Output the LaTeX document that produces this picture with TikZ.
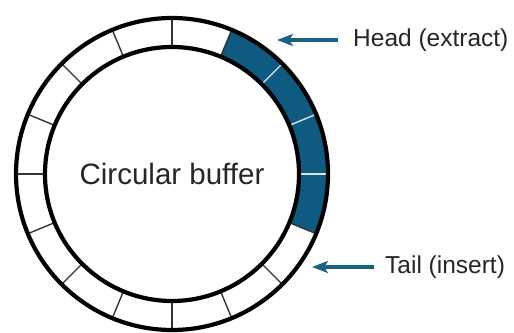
\documentclass[tikz,border=0pt]{standalone}
\usepackage{fontspec}
\setmainfont{Liberation Sans}
\usepackage{tikz}
\usetikzlibrary{arrows.meta}
\definecolor{bufblue}{RGB}{14,90,128}
\definecolor{arrowblue}{RGB}{24,96,132}

\begin{document}
\begin{tikzpicture}[x=1pt, y=1pt, >={Stealth[length=16pt, width=12pt, inset=4pt]},
		ring/.style={line width=4.2pt},
		slot/.style={line width=1.4pt, black!80},
		pointer/.style={->, line width=3.4pt, arrowblue},
		tag/.style={anchor=west, inner sep=0pt, font=\fontsize{24.5}{27}\selectfont, black!85}]
		\useasboundingbox (0,0) rectangle (514,332);
		\begin{scope}[shift={(172,158)}]
			% occupied slots
			\fill[bufblue] (67.5:156) arc (67.5:-22.5:156) -- (-22.5:127) arc (-22.5:67.5:127) -- cycle;
			\foreach \a in {67.5,90,...,337.5}{
				\draw[slot] (\a:127) -- (\a:156);
			}
			\foreach \a in {0,22.5,45}{
				\draw[line width=1.4pt, white!85!bufblue] (\a:127) -- (\a:156);
			}
			\draw[ring] (0,0) circle (156);
			\draw[ring] (0,0) circle (127);
			\node[font=\fontsize{29.5}{32}\selectfont, black!85] (buffer) at (0,0) {Circular buffer};
		\end{scope}
		\coordinate (headtip) at (277,292);
		\coordinate (tailtip) at (312,65);
		\node[tag] (head) at (353,292) {Head (extract)};
		\node[tag] (tail) at (385,65) {Tail (insert)};
		\draw[pointer] ([xshift=-15pt]head.west) -- (headtip);
		\draw[pointer] ([xshift=-11pt]tail.west) -- (tailtip);
	\end{tikzpicture}
\end{document}
